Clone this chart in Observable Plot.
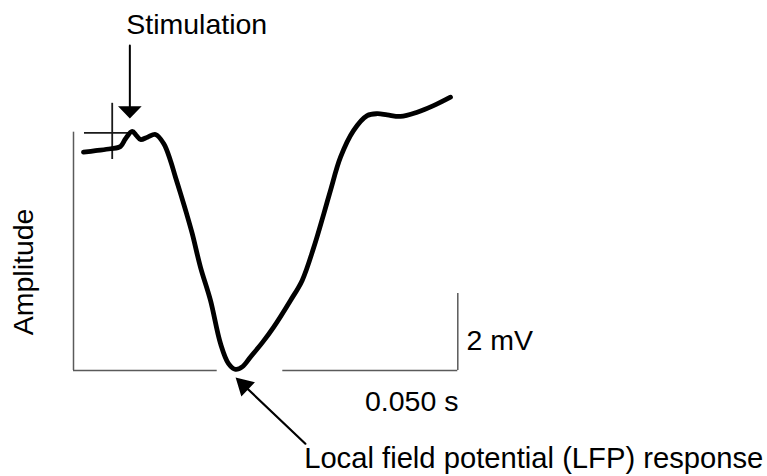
<!DOCTYPE html>
<html><head><meta charset="utf-8">
<script src="https://cdn.jsdelivr.net/npm/d3@7"></script>
<script src="https://cdn.jsdelivr.net/npm/@observablehq/plot@0.6"></script>
<style>html,body{margin:0;padding:0;background:#fff;}</style>
</head><body><div id="chart"></div>
<script>
// Trace of the evoked local field potential (time in ms, amplitude in mV)
const timeMs = [2.86, 6.29, 10.57, 13.43, 14.86, 16.77, 18.00, 19.14, 21.14, 23.43, 25.80, 27.71, 29.14, 30.57, 32.29, 33.91, 36.29, 39.14, 42.00, 44.29, 46.29, 48.29, 50.57, 54.00, 57.14, 62.00, 65.34, 68.66, 71.51, 73.43, 76.29, 80.00, 83.91, 86.77, 89.63, 93.43, 98.20, 102.86, 107.71];
const lfpMv  = [5.67, 5.71, 5.76, 5.82, 6.02, 6.21, 6.10, 6.00, 6.06, 6.13, 5.89, 5.45, 5.02, 4.60, 4.08, 3.56, 2.68, 1.82, 0.70, 0.18, 0.03, 0.10, 0.35, 0.73, 1.12, 1.82, 2.34, 3.20, 4.07, 4.68, 5.54, 6.23, 6.62, 6.67, 6.64, 6.60, 6.71, 6.88, 7.10];

// Annotation values
const stimulusTimeMs = 16.1;
const scaleBarSeconds = 0.050;
const scaleBarMv = 2;
const axisTopMv = 6.19;
const scaleBarEndMs = 109.8;
const gapStartMs = 41.06;
const titleStim = "Stimulation";
const titleAmp = "Amplitude";
const titleLfp = "Local field potential (LFP) response";

const trace = timeMs.map((t, i) => ({t, v: lfpMv[i]}));
const minPt = trace.reduce((a, b) => (b.v < a.v ? b : a));

// layout (pixel scale of the figure)
const W = 767, H = 476;
const kx = 3.5, ky = 38.5;      // px per ms, px per mV
const ox = 73, oy = 370;        // pixel position of (0 ms, 0 mV)
const font = "Liberation Sans, Arial, Helvetica, sans-serif";
const fs = 28.5;

const scaleBarMs = scaleBarSeconds * 1000;

function filledArrow(headLen, headHalf) {
  return {
    draw(ctx, l) {
      ctx.moveTo(0, 0);
      ctx.lineTo(0, -l + headLen * 0.6);
      ctx.moveTo(0, -l);
      ctx.lineTo(-headHalf, -l + headLen);
      ctx.lineTo(headHalf, -l + headLen);
      ctx.closePath();
    }
  };
}

const axisColor = "#5a5a5a";

const chart = Plot.plot({
  width: W, height: H,
  margin: 0,
  x: {domain: [-ox / kx, (W - ox) / kx], axis: null},
  y: {domain: [-(H - oy) / ky, oy / ky], axis: null},
  style: {fontFamily: font, background: "white"},
  marks: [
    // left axis line
    Plot.ruleX([{t: 0, a: 0, b: axisTopMv}], {x: "t", y1: "a", y2: "b", stroke: axisColor, strokeWidth: 1.5}),
    // bottom line (left part)
    Plot.ruleY([{v: 0, a: 0, b: gapStartMs}], {y: "v", x1: "a", x2: "b", stroke: axisColor, strokeWidth: 1.5}),
    // time scale bar
    Plot.ruleY([{v: 0, a: scaleBarEndMs - scaleBarMs, b: scaleBarEndMs}], {y: "v", x1: "a", x2: "b", stroke: axisColor, strokeWidth: 1.5}),
    // amplitude scale bar
    Plot.ruleX([{t: scaleBarEndMs, a: 0, b: scaleBarMv}], {x: "t", y1: "a", y2: "b", stroke: axisColor, strokeWidth: 1.5}),
    // stimulus artifact cross
    Plot.ruleY([{v: 6.17, a: 3.14, b: 16.77}], {y: "v", x1: "a", x2: "b", stroke: "#1a1a1a", strokeWidth: 1.8}),
    Plot.ruleX([{t: 11.06, a: 5.48, b: 6.94}], {x: "t", y1: "a", y2: "b", stroke: "#1a1a1a", strokeWidth: 1.8}),
    // LFP trace
    Plot.line(trace, {x: "t", y: "v", curve: "catmull-rom", stroke: "black", strokeWidth: 4.8, strokeLinecap: "round", strokeLinejoin: "round"}),
    // stimulation arrow
    Plot.vector([{t: stimulusTimeMs, v: 6.58}], {x: "t", y: "v", length: 71.7, rotate: 180, anchor: "end",
      shape: filledArrow(10, 9.5), stroke: "black", fill: "black", strokeWidth: 2, strokeLinejoin: "miter"}),
    // LFP arrow
    Plot.vector([{t: minPt.t + 0.48, v: minPt.v - 0.25}], {x: "t", y: "v", length: 94, rotate: -46.5, anchor: "end",
      shape: filledArrow(14, 8), stroke: "black", fill: "black", strokeWidth: 2.2, strokeLinejoin: "miter"}),
    // labels
    Plot.text([titleStim], {x: 15.06, y: 8.73, text: d => d, textAnchor: "start", lineAnchor: "bottom", fontSize: fs, fontFamily: font, fill: "black"}),
    Plot.text([titleAmp], {x: -11.43, y: 2.56, text: d => d, rotate: -90, textAnchor: "middle", lineAnchor: "bottom", fontSize: fs, fontFamily: font, fill: "black"}),
    Plot.text([`${scaleBarMv} mV`], {x: 112.3, y: 0.545, text: d => d, textAnchor: "start", lineAnchor: "bottom", fontSize: fs, fontFamily: font, fill: "black"}),
    Plot.text([`${scaleBarSeconds.toFixed(3)} s`], {x: 110.0, y: -1.04, text: d => d, textAnchor: "end", lineAnchor: "bottom", fontSize: fs, fontFamily: font, fill: "black"}),
    Plot.text([titleLfp], {x: 65.9, y: -2.545, text: d => d, textAnchor: "start", lineAnchor: "bottom", fontSize: 29.2, fontFamily: font, fill: "black"})
  ]
});
document.getElementById("chart").appendChild(chart);
</script>
</body></html>
